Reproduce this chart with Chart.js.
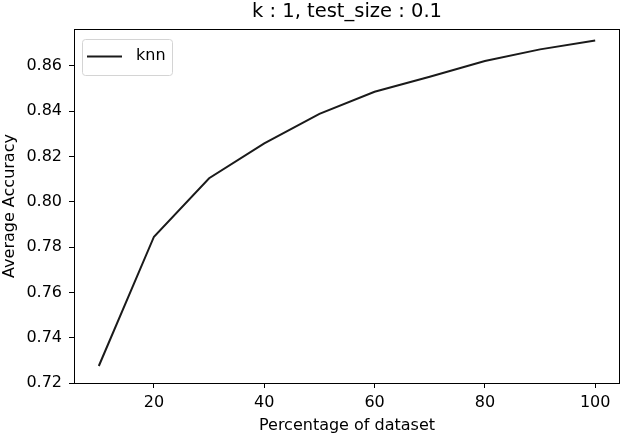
<!DOCTYPE html>
<html>
<head>
<meta charset="utf-8">
<script src="https://cdn.jsdelivr.net/npm/chart.js@4"></script>
<style>
  html, body { margin: 0; padding: 0; background: #fff; }
  #wrap { width: 630px; height: 435px; }
</style>
</head>
<body>
<div id="wrap"><canvas id="grafico"></canvas></div>
<script>
// datos
const porcentajes = [10, 20, 30, 40, 50, 60, 70, 80, 90, 100];
const precision = [0.7275, 0.7846, 0.8104, 0.8258, 0.8388, 0.8486, 0.8552, 0.8622, 0.8673, 0.8712];
const ticksX = [20, 40, 60, 80, 100];
const ticksY = [0.72, 0.74, 0.76, 0.78, 0.80, 0.82, 0.84, 0.86];

const fuente = 'DejaVu Sans';

// marco completo + leyenda dentro del area (estilo matplotlib)
const marco = {
    id: 'marco',
    afterDraw(chart) {
        const ctx = chart.ctx;
        const a = chart.chartArea;
        ctx.save();
        ctx.strokeStyle = '#000';
        ctx.lineWidth = 1;
        ctx.strokeRect(a.left + 0.5, a.top + 0.5, a.right - a.left - 1, a.bottom - a.top);

        // leyenda
        const ds = chart.data.datasets[0];
        const x0 = a.left + 8, y0 = a.top + 10;
        ctx.fillStyle = 'rgba(255,255,255,0.8)';
        ctx.strokeStyle = '#d4d4d4';
        ctx.beginPath();
        ctx.roundRect(x0 + 0.5, y0 + 0.5, 90, 36, 3);
        ctx.fill();
        ctx.stroke();
        ctx.strokeStyle = ds.borderColor;
        ctx.lineWidth = ds.borderWidth;
        ctx.beginPath();
        ctx.moveTo(x0 + 5, y0 + 17.5);
        ctx.lineTo(x0 + 40, y0 + 17.5);
        ctx.stroke();
        ctx.fillStyle = '#000';
        ctx.font = '16px "' + fuente + '"';
        ctx.textBaseline = 'middle';
        ctx.textAlign = 'left';
        ctx.fillText(ds.label, x0 + 54, y0 + 17);
        ctx.restore();
    }
};

const ctx = document.getElementById('grafico').getContext('2d');
new Chart(ctx, {
    type: 'line',
    data: {
        datasets: [{
            label: 'knn',
            data: porcentajes.map((p, i) => ({ x: p, y: precision[i] })),
            borderColor: '#1a1a1a',
            backgroundColor: '#1a1a1a',
            borderWidth: 2,
            pointRadius: 0,
            tension: 0,
            fill: false
        }]
    },
    options: {
        responsive: true,
        maintainAspectRatio: false,
        animation: false,
        layout: { padding: { left: 0, right: 10, top: 0, bottom: 0 } },
        plugins: {
            title: {
                display: true,
                fullSize: false,
                text: 'k : 1, test_size : 0.1',
                color: '#000',
                font: { family: fuente, size: 19.5, weight: 'normal' },
                padding: { top: 0, bottom: 5.6 }
            },
            legend: { display: false },
            tooltip: { enabled: false }
        },
        scales: {
            x: {
                type: 'linear',
                min: 5.5,
                max: 104.5,
                afterBuildTicks: s => { s.ticks = ticksX.map(v => ({ value: v })); },
                afterFit: s => { s.height = 52; },
                grid: { display: true, drawOnChartArea: false, tickLength: 5, color: '#000' },
                border: { display: false },
                ticks: { color: '#000', font: { family: fuente, size: 16 }, padding: 5, maxRotation: 0 },
                title: {
                    display: true,
                    text: 'Percentage of dataset',
                    color: '#000',
                    font: { family: fuente, size: 16 },
                    padding: { top: 2, bottom: 0 }
                }
            },
            y: {
                type: 'linear',
                min: 0.72,
                max: 0.8763,
                afterBuildTicks: s => { s.ticks = ticksY.map(v => ({ value: v })); },
                afterFit: s => { s.width = 74; },
                grid: { display: true, drawOnChartArea: false, tickLength: 5, color: '#000' },
                border: { display: false },
                ticks: {
                    color: '#000',
                    font: { family: fuente, size: 16 },
                    padding: 7,
                    callback: v => v.toFixed(2)
                },
                title: {
                    display: true,
                    text: 'Average Accuracy',
                    color: '#000',
                    font: { family: fuente, size: 16 },
                    padding: { top: 0, bottom: 2 }
                }
            }
        }
    },
    plugins: [marco]
});
</script>
</body>
</html>
